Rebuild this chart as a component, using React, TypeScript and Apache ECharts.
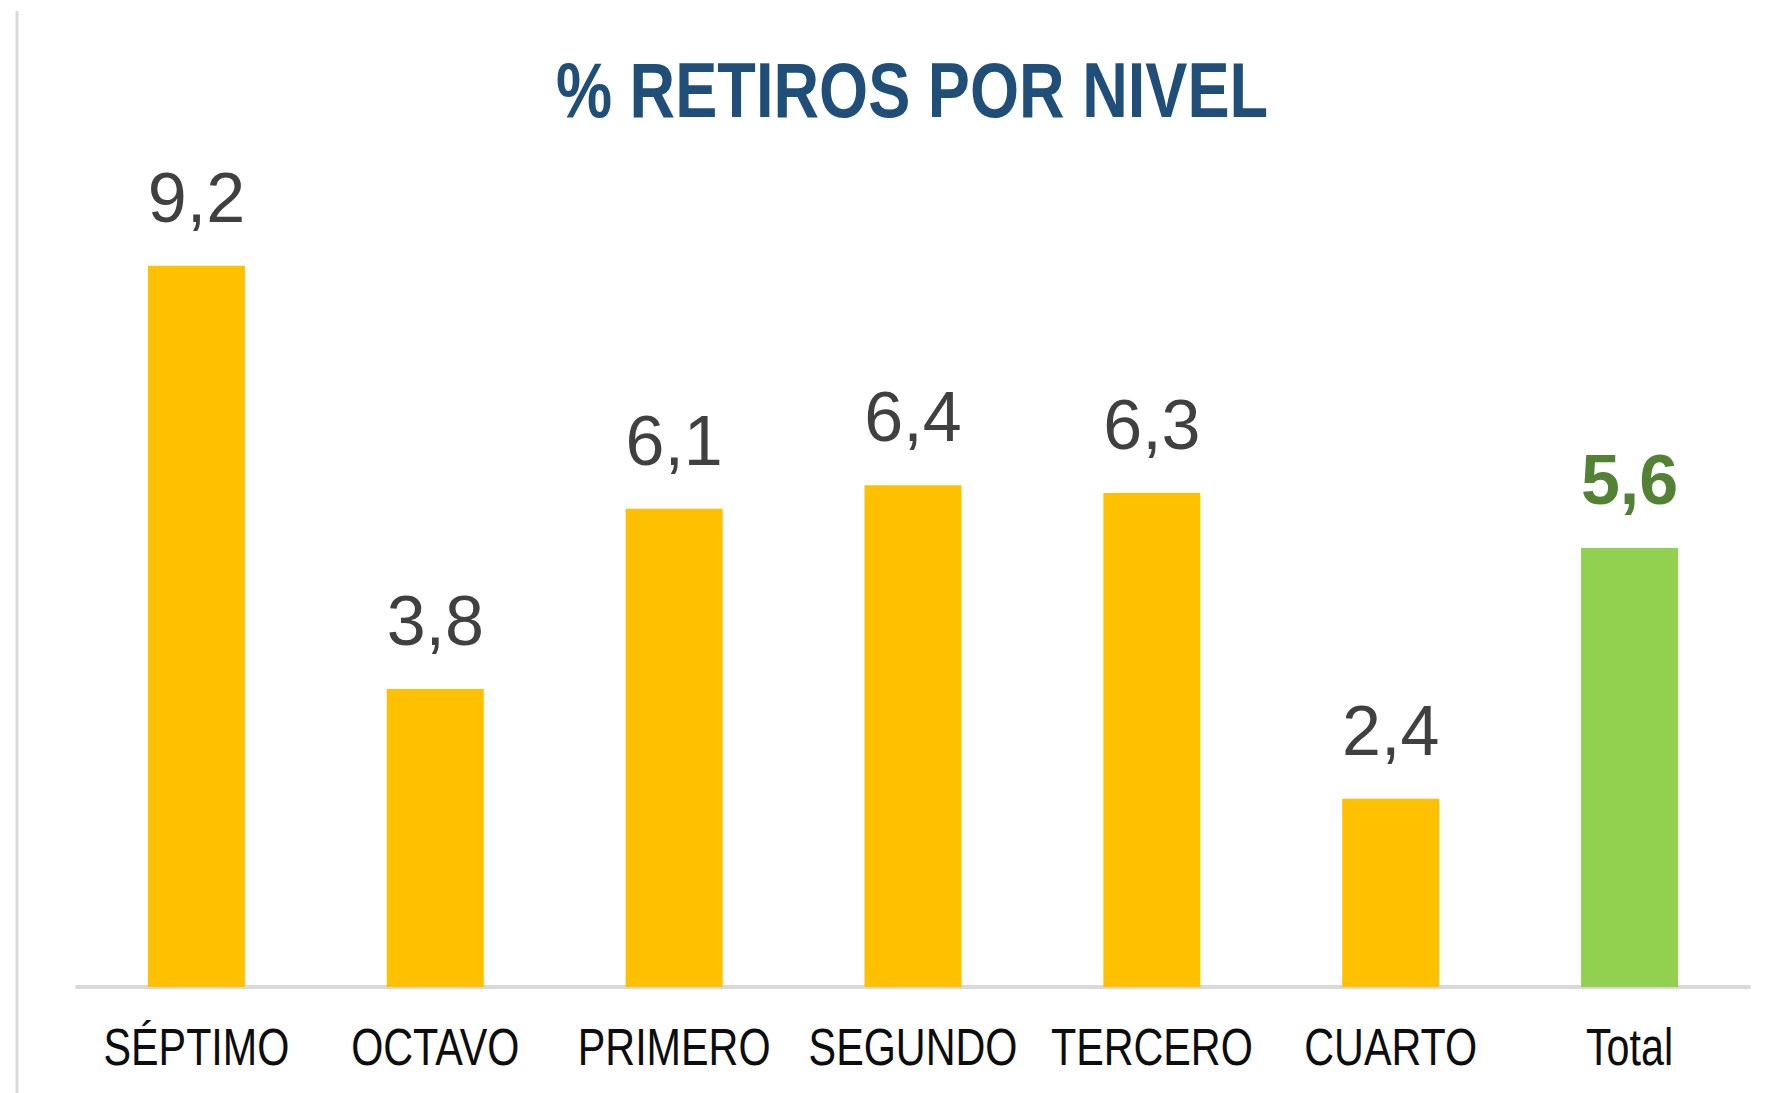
import React, { useEffect, useRef } from "react";
import * as echarts from "echarts";

const categories = ["SÉPTIMO", "OCTAVO", "PRIMERO", "SEGUNDO", "TERCERO", "CUARTO", "Total"];
const values = [9.2, 3.8, 6.1, 6.4, 6.3, 2.4, 5.6];
const totalCategory = "Total";
const titleText = "% RETIROS POR NIVEL";

const SANS = "'Liberation Sans', Arial, sans-serif";

export default function App() {
  const ref = useRef<HTMLDivElement>(null);
  useEffect(() => {
    if (!ref.current) return;
    const chart = echarts.init(ref.current, null, { renderer: "svg" });
    const fmt = (v: number) => v.toFixed(1).replace(".", ",");
    chart.setOption({
      animation: false,
      backgroundColor: "#ffffff",
      grid: { left: 77, right: 38, top: 203, bottom: 106 },
      xAxis: {
        type: "category",
        data: categories,
        axisLine: { lineStyle: { color: "#d9d9d9", width: 4 } },
        axisTick: { show: false },
        axisLabel: { show: false },
      },
      yAxis: {
        type: "value",
        min: 0,
        max: 10,
        show: false,
        splitLine: { show: false },
      },
      series: [
        {
          type: "bar",
          barWidth: "40.6%",
          data: values.map((v, i) => {
            const isTotal = categories[i] === totalCategory;
            return {
              value: v,
              itemStyle: { color: isTotal ? "#92d050" : "#ffc000" },
              label: isTotal
                ? { color: "#548235", fontWeight: "bold" }
                : undefined,
            };
          }),
          label: {
            show: true,
            position: "top",
            distance: 33,
            fontFamily: SANS,
            fontSize: 70,
            color: "#404040",
            formatter: (p: any) => fmt(p.value),
          },
        },
      ],
    });

    const labelY = 1047;
    const catLabels = categories.map((c, i) => {
      const px = chart.convertToPixel({ xAxisIndex: 0 }, c) as number;
      return {
        type: "text",
        id: "cat" + i,
        x: px,
        y: labelY,
        scaleX: 0.81,
        silent: true,
        style: {
          text: c,
          fontFamily: SANS,
          fontSize: 51,
          fill: "#0d0d0d",
          align: "center",
          verticalAlign: "middle",
        },
      };
    });

    chart.setOption({
      graphic: [
        {
          type: "line",
          id: "border",
          shape: { x1: 17, y1: 11, x2: 17, y2: 1093 },
          style: { stroke: "#d9d9d9", lineWidth: 3 },
        },
        {
          type: "text",
          id: "title",
          x: 912,
          y: 90,
          scaleX: 0.82,
          style: {
            text: titleText,
            fontFamily: SANS,
            fontWeight: "bold",
            fontSize: 77,
            fill: "#1f4e79",
            align: "center",
            verticalAlign: "middle",
          },
        },
        ...catLabels,
      ],
    });
    return () => chart.dispose();
  }, []);
  return (
    <div
      ref={ref}
      style={{ position: "fixed", left: 0, top: 0, width: 1787, height: 1093 }}
    />
  );
}
